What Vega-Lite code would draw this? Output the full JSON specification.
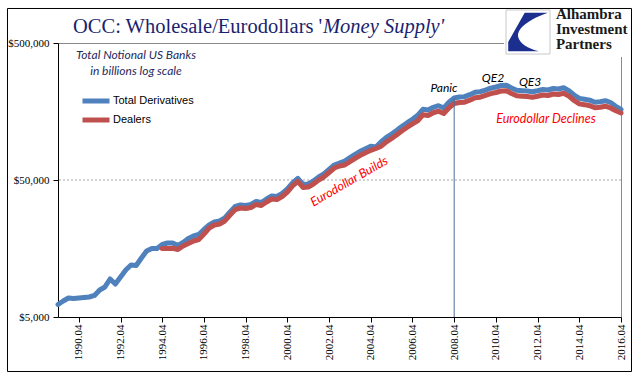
{
  "$schema": "https://vega.github.io/schema/vega-lite/v6.json",
  "width": 563,
  "height": 274,
  "autosize": {"type": "none"},
  "padding": {"left": 58, "top": 43, "right": 20, "bottom": 64},
  "background": "white",
  "config": {
    "view": {"stroke": "#8a8a8a", "strokeWidth": 1},
    "text": {"font": "Lato"}
  },
  "data": {
    "values": [
      {"t": 1989.75, "total": 6170, "dealers": null},
      {"t": 1990.0, "total": 6540, "dealers": null},
      {"t": 1990.25, "total": 6880, "dealers": null},
      {"t": 1990.5, "total": 6820, "dealers": null},
      {"t": 1990.75, "total": 6880, "dealers": null},
      {"t": 1991.0, "total": 6940, "dealers": null},
      {"t": 1991.25, "total": 7000, "dealers": null},
      {"t": 1991.5, "total": 7180, "dealers": null},
      {"t": 1991.75, "total": 7870, "dealers": null},
      {"t": 1992.0, "total": 8280, "dealers": null},
      {"t": 1992.25, "total": 9470, "dealers": null},
      {"t": 1992.5, "total": 8710, "dealers": null},
      {"t": 1992.75, "total": 9800, "dealers": null},
      {"t": 1993.0, "total": 11020, "dealers": null},
      {"t": 1993.25, "total": 11980, "dealers": null},
      {"t": 1993.5, "total": 11880, "dealers": null},
      {"t": 1993.75, "total": 13480, "dealers": null},
      {"t": 1994.0, "total": 15160, "dealers": null},
      {"t": 1994.25, "total": 15810, "dealers": null},
      {"t": 1994.5, "total": 15810, "dealers": null},
      {"t": 1994.75, "total": 16910, "dealers": 15810},
      {"t": 1995.0, "total": 17340, "dealers": 15810},
      {"t": 1995.25, "total": 17340, "dealers": 15870},
      {"t": 1995.5, "total": 16630, "dealers": 15550},
      {"t": 1995.75, "total": 17490, "dealers": 16490},
      {"t": 1996.0, "total": 18710, "dealers": 17200},
      {"t": 1996.25, "total": 19510, "dealers": 17940},
      {"t": 1996.5, "total": 20010, "dealers": 18390},
      {"t": 1996.75, "total": 21770, "dealers": 20180},
      {"t": 1997.0, "total": 23470, "dealers": 22320},
      {"t": 1997.25, "total": 24690, "dealers": 23480},
      {"t": 1997.5, "total": 25110, "dealers": 23880},
      {"t": 1997.75, "total": 26410, "dealers": 25110},
      {"t": 1998.0, "total": 29200, "dealers": 27770},
      {"t": 1998.25, "total": 32030, "dealers": 30460},
      {"t": 1998.5, "total": 32850, "dealers": 31240},
      {"t": 1998.75, "total": 32580, "dealers": 30980},
      {"t": 1999.0, "total": 33130, "dealers": 31500},
      {"t": 1999.25, "total": 34840, "dealers": 33130},
      {"t": 1999.5, "total": 34260, "dealers": 32580},
      {"t": 1999.75, "total": 36330, "dealers": 34550},
      {"t": 2000.0, "total": 38210, "dealers": 36340},
      {"t": 2000.25, "total": 37890, "dealers": 36040},
      {"t": 2000.5, "total": 39850, "dealers": 37900},
      {"t": 2000.75, "total": 42980, "dealers": 40870},
      {"t": 2001.0, "total": 47550, "dealers": 45220},
      {"t": 2001.25, "total": 51280, "dealers": 48770},
      {"t": 2001.5, "total": 46370, "dealers": 44100},
      {"t": 2001.75, "total": 46750, "dealers": 44460},
      {"t": 2002.0, "total": 49180, "dealers": 46770},
      {"t": 2002.25, "total": 52590, "dealers": 50020},
      {"t": 2002.5, "total": 55320, "dealers": 52610},
      {"t": 2002.75, "total": 59660, "dealers": 56730},
      {"t": 2003.0, "total": 64340, "dealers": 61190},
      {"t": 2003.25, "total": 66540, "dealers": 63280},
      {"t": 2003.5, "total": 68820, "dealers": 64350},
      {"t": 2003.75, "total": 72750, "dealers": 68020},
      {"t": 2004.0, "total": 77020, "dealers": 72020},
      {"t": 2004.25, "total": 81010, "dealers": 75750},
      {"t": 2004.5, "total": 84640, "dealers": 79140},
      {"t": 2004.75, "total": 88110, "dealers": 82380},
      {"t": 2005.0, "total": 87070, "dealers": 84900},
      {"t": 2005.25, "total": 95190, "dealers": 88240},
      {"t": 2005.5, "total": 102500, "dealers": 95010},
      {"t": 2005.75, "total": 108340, "dealers": 100430},
      {"t": 2006.0, "total": 115290, "dealers": 106870},
      {"t": 2006.25, "total": 123320, "dealers": 114320},
      {"t": 2006.5, "total": 130980, "dealers": 121420},
      {"t": 2006.75, "total": 138720, "dealers": 128590},
      {"t": 2007.0, "total": 148370, "dealers": 135320},
      {"t": 2007.25, "total": 164130, "dealers": 149690},
      {"t": 2007.5, "total": 162180, "dealers": 147910},
      {"t": 2007.75, "total": 169740, "dealers": 154800},
      {"t": 2008.0, "total": 174330, "dealers": 158990},
      {"t": 2008.25, "total": 167710, "dealers": 152960},
      {"t": 2008.5, "total": 184590, "dealers": 168350},
      {"t": 2008.75, "total": 198380, "dealers": 180930},
      {"t": 2009.0, "total": 201750, "dealers": 183990},
      {"t": 2009.25, "total": 202770, "dealers": 184930},
      {"t": 2009.5, "total": 209700, "dealers": 191250},
      {"t": 2009.75, "total": 218720, "dealers": 199470},
      {"t": 2010.0, "total": 220540, "dealers": 201130},
      {"t": 2010.25, "total": 226930, "dealers": 206960},
      {"t": 2010.5, "total": 233920, "dealers": 213340},
      {"t": 2010.75, "total": 238660, "dealers": 217660},
      {"t": 2011.0, "total": 244780, "dealers": 223240},
      {"t": 2011.25, "total": 246030, "dealers": 224380},
      {"t": 2011.5, "total": 234740, "dealers": 214080},
      {"t": 2011.75, "total": 225780, "dealers": 205910},
      {"t": 2012.0, "total": 224270, "dealers": 204530},
      {"t": 2012.25, "total": 223140, "dealers": 203500},
      {"t": 2012.5, "total": 220540, "dealers": 201130},
      {"t": 2012.75, "total": 223910, "dealers": 204210},
      {"t": 2013.0, "total": 228860, "dealers": 208720},
      {"t": 2013.25, "total": 226930, "dealers": 206960},
      {"t": 2013.5, "total": 232750, "dealers": 212270},
      {"t": 2013.75, "total": 230780, "dealers": 210470},
      {"t": 2014.0, "total": 235500, "dealers": 214780},
      {"t": 2014.25, "total": 224270, "dealers": 204530},
      {"t": 2014.5, "total": 208640, "dealers": 190280},
      {"t": 2014.75, "total": 197070, "dealers": 179730},
      {"t": 2015.0, "total": 194460, "dealers": 177350},
      {"t": 2015.25, "total": 191210, "dealers": 174380},
      {"t": 2015.5, "total": 184590, "dealers": 168350},
      {"t": 2015.75, "total": 186430, "dealers": 170020},
      {"t": 2016.0, "total": 189590, "dealers": 172910},
      {"t": 2016.25, "total": 183950, "dealers": 167760},
      {"t": 2016.5, "total": 172590, "dealers": 159990},
      {"t": 2016.75, "total": 163570, "dealers": 154250}
    ]
  },
  "layer": [
    {
      "data": {"values": [{}]},
      "mark": {"type": "rule", "color": "#a6a6a6", "strokeDash": [2, 2], "strokeWidth": 1},
      "encoding": {
        "y": {
          "datum": 50000, "type": "quantitative",
          "scale": {"type": "log", "domain": [5000, 500000], "nice": false},
          "axis": {
            "values": [5000, 50000, 500000],
            "labelExpr": "'$' + format(datum.value, ',')",
            "labelFont": "Liberation Serif", "labelFontSize": 11, "labelColor": "#000000",
            "labelPadding": 4, "tickSize": 5, "tickColor": "#000000", "domainColor": "#000000",
            "labelFlush": false, "labelOverlap": false,
            "grid": false, "title": null
          }
        }
      }
    },
    {
      "mark": {"type": "line", "strokeWidth": 5, "strokeCap": "round", "strokeJoin": "round"},
      "encoding": {
        "x": {
          "field": "t", "type": "quantitative",
          "scale": {"domain": [1989.75, 2016.75], "nice": false, "zero": false},
          "axis": {
            "values": [1990.75, 1992.75, 1994.75, 1996.75, 1998.75, 2000.75, 2002.75, 2004.75, 2006.75, 2008.75, 2010.75, 2012.75, 2014.75, 2016.75],
            "labelExpr": "floor(datum.value) + '.04'",
            "labelAngle": 270, "labelAlign": "right", "labelBaseline": "middle",
            "labelFont": "Liberation Serif", "labelFontSize": 11, "labelColor": "#000000",
            "labelPadding": 2, "labelFlush": false, "labelOverlap": false,
            "tickSize": 5, "tickColor": "#000000", "domainColor": "#000000",
            "grid": false, "title": null
          }
        },
        "y": {"field": "total", "type": "quantitative"},
        "color": {
          "datum": "Total Derivatives",
          "scale": {"domain": ["Total Derivatives", "Dealers"], "range": ["#4F81BD", "#C0504D"]},
          "legend": {
            "orient": "none", "legendX": 22, "legendY": 48.5, "title": null,
            "symbolType": "stroke", "symbolStrokeWidth": 5, "symbolSize": 729,
            "labelFont": "Liberation Sans", "labelFontSize": 11, "labelColor": "#000000",
            "labelOffset": 1, "rowPadding": 0, "clipHeight": 19, "padding": 0
          }
        }
      }
    },
    {
      "mark": {"type": "line", "strokeWidth": 5, "strokeCap": "round", "strokeJoin": "round"},
      "encoding": {
        "x": {"field": "t", "type": "quantitative"},
        "y": {"field": "dealers", "type": "quantitative"},
        "color": {"datum": "Dealers"}
      }
    },
    {
      "data": {"values": [{}]},
      "mark": {"type": "rule", "color": "#4a6d9c", "strokeWidth": 1},
      "encoding": {
        "x": {"datum": 2008.75, "type": "quantitative"},
        "y": {"datum": 198380, "type": "quantitative"},
        "y2": {"datum": 5000}
      }
    },
    {
      "data": {"values": [{}]},
      "mark": {"type": "text", "text": "Total Notional US Banks", "fontStyle": "italic", "fontSize": 12, "color": "#1f2a5c", "align": "center", "baseline": "middle"},
      "encoding": {"x": {"datum": 1993.49, "type": "quantitative"}, "y": {"datum": 408600, "type": "quantitative"}}
    },
    {
      "data": {"values": [{}]},
      "mark": {"type": "text", "text": "in billions log scale", "fontStyle": "italic", "fontSize": 12, "color": "#1f2a5c", "align": "center", "baseline": "middle"},
      "encoding": {"x": {"datum": 1993.49, "type": "quantitative"}, "y": {"datum": 312300, "type": "quantitative"}}
    },
    {
      "data": {"values": [{}]},
      "mark": {"type": "text", "text": "Panic", "fontStyle": "italic", "fontSize": 12, "color": "#000000", "align": "center", "baseline": "middle"},
      "encoding": {"x": {"datum": 2008.26, "type": "quantitative"}, "y": {"datum": 234700, "type": "quantitative"}}
    },
    {
      "data": {"values": [{}]},
      "mark": {"type": "text", "text": "QE2", "fontStyle": "italic", "fontSize": 12, "color": "#000000", "align": "center", "baseline": "middle"},
      "encoding": {"x": {"datum": 2010.61, "type": "quantitative"}, "y": {"datum": 277600, "type": "quantitative"}}
    },
    {
      "data": {"values": [{}]},
      "mark": {"type": "text", "text": "QE3", "fontStyle": "italic", "fontSize": 12, "color": "#000000", "align": "center", "baseline": "middle"},
      "encoding": {"x": {"datum": 2012.39, "type": "quantitative"}, "y": {"datum": 259600, "type": "quantitative"}}
    },
    {
      "data": {"values": [{}]},
      "mark": {"type": "text", "text": "Eurodollar Declines", "fontStyle": "italic", "fontSize": 12.5, "color": "#ff0000", "align": "center", "baseline": "middle"},
      "encoding": {"x": {"datum": 2013.15, "type": "quantitative"}, "y": {"datum": 139300, "type": "quantitative"}}
    },
    {
      "data": {"values": [{}]},
      "mark": {"type": "text", "text": "Eurodollar Builds", "fontStyle": "italic", "fontSize": 12.5, "color": "#ff0000", "align": "center", "baseline": "middle", "angle": 330},
      "encoding": {"x": {"datum": 2003.71, "type": "quantitative"}, "y": {"datum": 48760, "type": "quantitative"}}
    },
    {
      "data": {"values": [{}]},
      "mark": {"type": "rect", "fill": "white", "stroke": null},
      "encoding": {
        "x": {"datum": 2011.14, "type": "quantitative"}, "x2": {"datum": 2017.23},
        "y": {"datum": 395200, "type": "quantitative"}, "y2": {"datum": 885500}
      }
    },
    {
      "data": {"values": [{}]},
      "mark": {"type": "point", "shape": "square", "size": 1936, "filled": true, "fill": "white", "stroke": "#c8c8c8", "strokeWidth": 1, "opacity": 1},
      "encoding": {"x": {"datum": 2012.29, "type": "quantitative"}, "y": {"datum": 601500, "type": "quantitative"}}
    },
    {
      "data": {"values": [{}]},
      "mark": {"type": "point", "shape": "M -0.15 -0.88 L 0.9 -0.88 C 0.1 -0.6 -0.5 -0.2 -0.45 0.2 C -0.4 0.5 0.0 0.75 0.5 0.88 L -0.9 0.88 L -0.9 0.45 Z", "size": 1936, "filled": true, "color": "#1c2f8f", "opacity": 1},
      "encoding": {"x": {"datum": 2012.29, "type": "quantitative"}, "y": {"datum": 601500, "type": "quantitative"}}
    },
    {
      "data": {"values": [{}]},
      "mark": {"type": "text", "text": "Alhambra", "font": "Liberation Serif", "fontWeight": "bold", "fontSize": 15, "color": "#1a1a1a", "align": "left", "baseline": "alphabetic"},
      "encoding": {"x": {"datum": 2013.63, "type": "quantitative"}, "y": {"datum": 748500, "type": "quantitative"}}
    },
    {
      "data": {"values": [{}]},
      "mark": {"type": "text", "text": "Investment", "font": "Liberation Serif", "fontWeight": "bold", "fontSize": 15, "color": "#1a1a1a", "align": "left", "baseline": "alphabetic"},
      "encoding": {"x": {"datum": 2013.63, "type": "quantitative"}, "y": {"datum": 581900, "type": "quantitative"}}
    },
    {
      "data": {"values": [{}]},
      "mark": {"type": "text", "text": "Partners", "font": "Liberation Serif", "fontWeight": "bold", "fontSize": 15, "color": "#1a1a1a", "align": "left", "baseline": "alphabetic"},
      "encoding": {"x": {"datum": 2013.63, "type": "quantitative"}, "y": {"datum": 452000, "type": "quantitative"}}
    },
    {
      "data": {"values": [{}]},
      "mark": {"type": "text", "text": "OCC: Wholesale/Eurodollars '", "font": "Liberation Serif", "fontSize": 20.5, "color": "#1b1f6e", "align": "left", "baseline": "alphabetic"},
      "encoding": {"x": {"datum": 1990.47, "type": "quantitative"}, "y": {"datum": 591500, "type": "quantitative"}}
    },
    {
      "data": {"values": [{}]},
      "mark": {"type": "text", "text": "Money Supply'", "font": "Liberation Serif", "fontStyle": "italic", "fontSize": 20.5, "color": "#1b1f6e", "align": "left", "baseline": "alphabetic"},
      "encoding": {"x": {"datum": 2002.46, "type": "quantitative"}, "y": {"datum": 591500, "type": "quantitative"}}
    },
    {
      "data": {"values": [{}]},
      "mark": {"type": "rect", "filled": false, "fill": null, "stroke": "#000000", "strokeWidth": 1},
      "encoding": {
        "x": {"datum": 1987.328, "type": "quantitative"}, "x2": {"datum": 2017.254},
        "y": {"datum": 2001, "type": "quantitative"}, "y2": {"datum": 893000}
      }
    }
  ]
}
